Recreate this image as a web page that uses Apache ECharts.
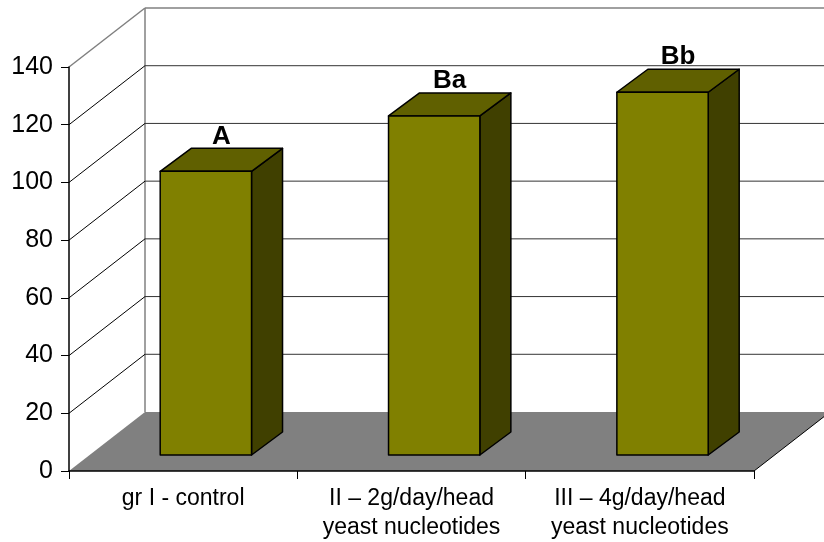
<!DOCTYPE html>
<html>
<head>
<meta charset="utf-8">
<script src="https://cdn.jsdelivr.net/npm/echarts@6/dist/echarts.min.js"></script>
<style>
  html, body { margin: 0; padding: 0; background: #fff; }
  #chart { width: 824px; height: 542px; }
</style>
</head>
<body>
<div id="chart"></div>
<script>
// Groups, measured values and significance letters
const categories = [
  'gr I - control',
  'II \u2013 2g/day/head\nyeast nucleotides',
  'III \u2013 4g/day/head\nyeast nucleotides'
];
const values = [98.3, 117.5, 125.7];
const groupLetters = ['A', 'Ba', 'Bb'];
const yMin = 0;
const yMax = 140;
const yStep = 20;

const FONT = '"Liberation Sans", Arial, sans-serif';

// Depth of the 3D box (back wall offset) and of the bars
const WALL_DX = 76, WALL_DY = -59;
const BAR_SHIFT_X = 22.7, BAR_SHIFT_Y = -16;
const BAR_DEPTH_X = 31, BAR_DEPTH_Y = -23;

function renderWalls(params, api) {
  const cs = params.coordSys;
  const left = cs.x, right = cs.x + cs.width;
  const y0 = api.coord([0, yMin])[1];
  const yTop = api.coord([0, yMax])[1];
  const children = [];
  // floor
  children.push({
    type: 'polygon',
    shape: { points: [[left, y0], [right, y0], [right + WALL_DX, y0 + WALL_DY], [left + WALL_DX, y0 + WALL_DY]] },
    style: { fill: '#808080' }
  });
  children.push({
    type: 'line',
    shape: { x1: right, y1: y0, x2: right + WALL_DX, y2: y0 + WALL_DY },
    style: { stroke: '#000', lineWidth: 1 }
  });
  // back wall left edge
  children.push({
    type: 'line',
    shape: { x1: left + WALL_DX, y1: yTop + WALL_DY, x2: left + WALL_DX, y2: y0 + WALL_DY },
    style: { stroke: '#808080', lineWidth: 1.5 }
  });
  // side wall diagonals and back wall grid lines
  for (let v = yMin + yStep; v <= yMax; v += yStep) {
    const y = api.coord([0, v])[1];
    const col = v === yMax ? '#808080' : '#000';
    children.push({
      type: 'line',
      shape: { x1: left, y1: y, x2: left + WALL_DX, y2: y + WALL_DY },
      style: { stroke: col, lineWidth: v === yMax ? 1.5 : 1 }
    });
    children.push({
      type: 'line',
      shape: { x1: left + WALL_DX, y1: y + WALL_DY, x2: right + WALL_DX + 20, y2: y + WALL_DY },
      style: { stroke: v === yMax ? '#808080' : '#333', lineWidth: v === yMax ? 1.5 : 1 }
    });
  }
  return { type: 'group', children: children };
}

function renderBar(params, api) {
  const idx = api.value(0);
  const val = api.value(1);
  const base = api.coord([idx, yMin]);
  const top = api.coord([idx, val]);
  const band = api.size([1, 0])[0];
  const w = band * 0.4;
  const cx = base[0] + BAR_SHIFT_X;
  const x1 = cx - w / 2, x2 = cx + w / 2;
  const yb = base[1] + BAR_SHIFT_Y;
  const yt = top[1] + BAR_SHIFT_Y;
  const dx = BAR_DEPTH_X, dy = BAR_DEPTH_Y;
  const stroke = { stroke: '#000', lineWidth: 1.5, lineJoin: 'round' };
  return {
    type: 'group',
    children: [
      { type: 'polygon', shape: { points: [[x2, yb], [x2, yt], [x2 + dx, yt + dy], [x2 + dx, yb + dy]] },
        style: Object.assign({ fill: '#404000' }, stroke) },
      { type: 'polygon', shape: { points: [[x1, yt], [x2, yt], [x2 + dx, yt + dy], [x1 + dx, yt + dy]] },
        style: Object.assign({ fill: '#606000' }, stroke) },
      { type: 'rect', shape: { x: x1, y: yt, width: w, height: yb - yt },
        style: Object.assign({ fill: '#808000' }, stroke) },
      { type: 'text', x: cx + dx / 2, y: yt + dy + 1,
        style: { text: groupLetters[params.dataIndex], fill: '#000', font: 'bold 26px ' + FONT,
                 align: 'center', verticalAlign: 'bottom' } }
    ]
  };
}

const chart = echarts.init(document.getElementById('chart'), null, { renderer: 'canvas' });
chart.setOption({
  animation: false,
  backgroundColor: '#fff',
  grid: { left: 69, top: 67, width: 685, height: 404, containLabel: false },
  xAxis: {
    type: 'category',
    data: categories,
    boundaryGap: true,
    z: 5,
    axisLine: { show: true, lineStyle: { color: '#000', width: 1.5 } },
    axisTick: { show: true, length: 8, lineStyle: { color: '#000', width: 1 } },
    axisLabel: { color: '#000', fontFamily: FONT, fontSize: 23, lineHeight: 29, margin: 13,
                 verticalAlign: 'top', interval: 0, hideOverlap: false },
    splitLine: { show: false }
  },
  yAxis: {
    type: 'value',
    min: yMin, max: yMax, interval: yStep,
    z: 5,
    axisLine: { show: true, lineStyle: { color: '#000', width: 1.5 } },
    axisTick: { show: true, length: 8, lineStyle: { color: '#000', width: 1 } },
    axisLabel: { color: '#000', fontFamily: FONT, fontSize: 25, margin: 16 },
    splitLine: { show: false }
  },
  series: [
    { type: 'custom', name: 'walls', z: 1, silent: true, clip: false,
      renderItem: renderWalls, data: [[0, 0]] },
    { type: 'custom', name: 'bars', z: 6, clip: false,
      renderItem: renderBar,
      data: values.map((v, i) => [i, v]) }
  ]
});
</script>
</body>
</html>
